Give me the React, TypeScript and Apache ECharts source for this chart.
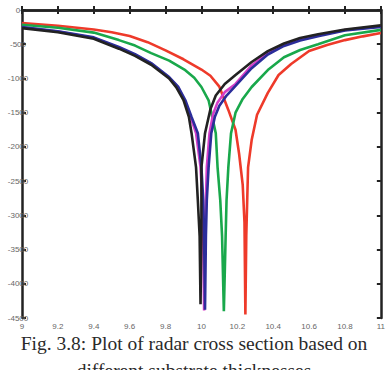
import React, { useEffect, useRef } from "react";
import * as echarts from "echarts";

const xTicks = [9, 9.2, 9.4, 9.6, 9.8, 10, 10.2, 10.4, 10.6, 10.8, 11];
const yTicks = [0, -500, -1000, -1500, -2000, -2500, -3000, -3500, -4000, -4500];

const redX = [9.0, 9.2, 9.4, 9.5, 9.6, 9.7, 9.8, 9.9, 10.0, 10.05, 10.1, 10.15, 10.19, 10.21, 10.23, 10.24, 10.245, 10.25, 10.255, 10.26, 10.28, 10.31, 10.37, 10.43, 10.5, 10.6, 10.7, 10.8, 10.9, 11.0];
const redY = [-190, -230, -285, -325, -380, -470, -590, -720, -870, -960, -1120, -1460, -1750, -2100, -2550, -3100, -4450, -3300, -2800, -2300, -1900, -1530, -1210, -950, -790, -600, -510, -440, -385, -335];

const greenX = [9.0, 9.2, 9.4, 9.54, 9.63, 9.72, 9.82, 9.91, 9.96, 10.0, 10.04, 10.06, 10.08, 10.09, 10.105, 10.115, 10.125, 10.135, 10.14, 10.15, 10.165, 10.19, 10.23, 10.28, 10.37, 10.46, 10.55, 10.65, 10.8, 11.0];
const greenY = [-215, -260, -330, -440, -520, -630, -740, -880, -990, -1125, -1320, -1560, -1800, -2300, -2780, -3300, -4400, -3300, -2780, -2300, -1800, -1500, -1300, -1125, -877, -690, -585, -500, -370, -290];

const magentaX = [9.0, 9.2, 9.4, 9.54, 9.63, 9.72, 9.82, 9.87, 9.905, 9.94, 9.97, 9.995, 10.005, 10.01, 10.015, 10.02, 10.025, 10.03, 10.045, 10.065, 10.09, 10.13, 10.19, 10.28, 10.37, 10.46, 10.55, 10.65, 10.8, 11.0];
const magentaY = [-255, -315, -410, -550, -655, -785, -990, -1130, -1316, -1564, -1800, -2300, -2780, -3300, -4390, -3300, -2780, -2300, -1800, -1520, -1350, -1200, -1080, -810, -625, -510, -430, -370, -293, -238];

const blueX = [9.0, 9.2, 9.4, 9.54, 9.63, 9.72, 9.82, 9.87, 9.91, 9.945, 9.98, 10.0, 10.01, 10.015, 10.02, 10.025, 10.03, 10.04, 10.055, 10.075, 10.1, 10.14, 10.19, 10.28, 10.37, 10.46, 10.55, 10.65, 10.8, 11.0];
const blueY = [-250, -310, -400, -540, -645, -775, -980, -1120, -1316, -1564, -1800, -2300, -2780, -3300, -4380, -3300, -2780, -2300, -1800, -1560, -1400, -1250, -1110, -850, -650, -525, -445, -385, -300, -248];

const blackX = [9.0, 9.2, 9.4, 9.54, 9.63, 9.72, 9.82, 9.86, 9.9, 9.93, 9.945, 9.97, 9.98, 9.99, 9.995, 10.0, 10.0, 10.0, 10.02, 10.05, 10.08, 10.13, 10.19, 10.28, 10.37, 10.46, 10.55, 10.65, 10.8, 11.0];
const blackY = [-265, -325, -420, -565, -670, -800, -1000, -1130, -1316, -1560, -1800, -2300, -2780, -3300, -4300, -3300, -2780, -2300, -1800, -1450, -1250, -1080, -950, -760, -600, -490, -410, -355, -285, -225];

const zip = (xs: number[], ys: number[]) => xs.map((x, i) => [x, ys[i]]);

export default function App() {
  const ref = useRef<HTMLDivElement>(null);
  useEffect(() => {
    const chart = echarts.init(ref.current!, null, { renderer: "svg" });
    const axisLine = { show: true, lineStyle: { color: "#222", width: 2.5 } };
    const tick = { show: true, inside: true, length: 4, lineStyle: { color: "#222", width: 2 } };
    const lbl = { color: "#666", fontSize: 8, fontFamily: "Liberation Sans, Arial" };
    const mk = (name: string, xs: number[], ys: number[], color: string) => ({
      name,
      type: "line",
      data: zip(xs, ys),
      showSymbol: false,
      symbol: "none",
      z: 3,
      lineStyle: { color, width: 2.6 },
      itemStyle: { color },
    });
    chart.setOption({
      animation: false,
      backgroundColor: "#fff",
      grid: { left: 22, right: 4, top: 10, bottom: 52 },
      xAxis: [
        {
          type: "value", min: 9, max: 11, interval: 0.2, position: "bottom",
          axisLine, axisTick: tick, splitLine: { show: false },
          axisLabel: { ...lbl, margin: 4, formatter: (v: number) => xTicks.includes(Math.round(v * 10) / 10) ? String(Math.round(v * 10) / 10) : "" },
        },
        {
          type: "value", min: 9, max: 11, interval: 0.2, position: "top",
          axisLine, axisTick: tick, splitLine: { show: false }, axisLabel: { show: false },
        },
      ],
      yAxis: [
        {
          type: "value", min: -4500, max: 0, interval: 500, position: "left",
          axisLine, axisTick: tick, splitLine: { show: false },
          axisLabel: { ...lbl, margin: 4, align: "center", formatter: (v: number) => yTicks.includes(v) ? String(v) : "" },
        },
        {
          type: "value", min: -4500, max: 0, interval: 500, position: "right",
          axisLine, axisTick: tick, splitLine: { show: false }, axisLabel: { show: false },
        },
      ],
      series: [
        mk("red", redX, redY, "#ee3a2a"),
        mk("green", greenX, greenY, "#19a84b"),
        mk("magenta", magentaX, magentaY, "#d43fc8"),
        mk("blue", blueX, blueY, "#2b2d9a"),
        mk("black", blackX, blackY, "#222222"),
      ],
      graphic: [
        {
          type: "text", left: "center", top: 333,
          style: { text: "Fig. 3.8: Plot of radar cross section based on", fontFamily: "Liberation Serif, Times New Roman", fontSize: 19.5, fill: "#2a2a2a" },
        },
        {
          type: "text", left: "center", top: 360,
          style: { text: "different substrate thicknesses", fontFamily: "Liberation Serif, Times New Roman", fontSize: 19.5, fill: "#2a2a2a" },
        },
      ],
    });
    return () => chart.dispose();
  }, []);
  return <div ref={ref} style={{ position: "fixed", left: 0, top: 0, width: 388, height: 370, overflow: "hidden" }} />;
}
